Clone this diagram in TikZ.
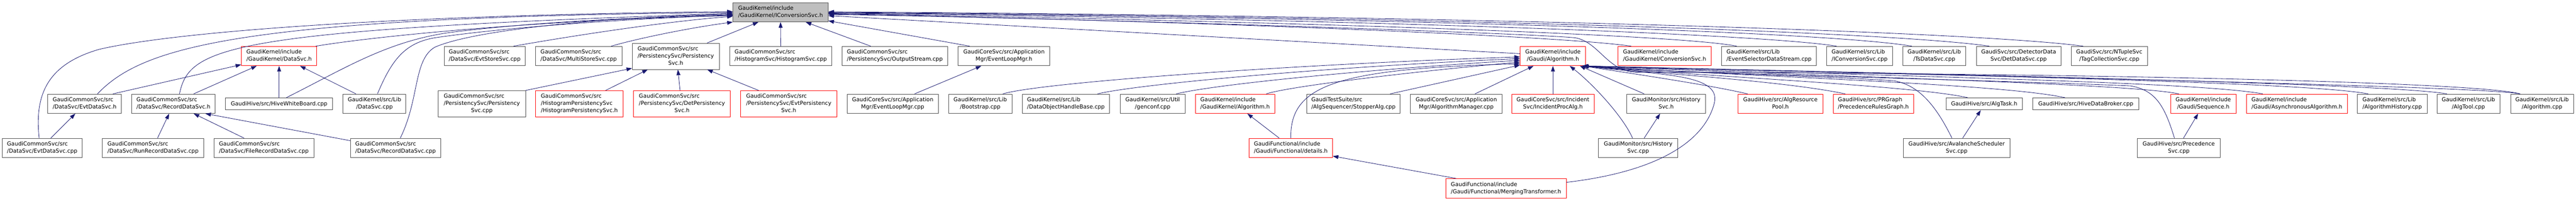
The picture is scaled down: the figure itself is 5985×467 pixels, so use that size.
\documentclass[tikz,border=0pt]{standalone}
\usepackage{fontspec}
\setmainfont{DejaVu Sans}
\usepackage{xcolor}
\usepackage{tikz}
\usetikzlibrary{arrows.meta}
\definecolor{edgeblue}{HTML}{191970}
\definecolor{boxgray}{HTML}{4D4D4D}
\definecolor{truncred}{HTML}{FF0000}
\definecolor{rootfill}{HTML}{BFBFBF}
\newcommand{\flab}[2]{\begin{tabular}{@{}l@{}}#1\\\multicolumn{1}{@{}c@{}}{#2}\end{tabular}}
\tikzset{
  filebox/.style={draw=boxgray, line width=1pt, fill=white, inner sep=0pt, minimum height=45pt, font=\fontsize{12.8}{17}\selectfont},
  redbox/.style={filebox, draw=truncred},
  rootbox/.style={filebox, fill=rootfill},
  tallbox/.style={minimum height=61pt},
  flatbox/.style={minimum height=28pt},
  dep/.style={draw=edgeblue, line width=1pt, -{Triangle[length=13pt,width=9pt]}},
}

\begin{document}
\begin{tikzpicture}[x=1pt, y=-1pt]
\useasboundingbox (0,0) rectangle (5985,467);

% included file
\node[rootbox, minimum width=221pt] (iconvh) at (1813.5,28.5) {\flab{GaudiKernel/include}{/GaudiKernel/IConversionSvc.h}};

% first row
\node[redbox, minimum width=175pt] (dsvch) at (648.5,130.5) {\flab{GaudiKernel/include}{/GaudiKernel/DataSvc.h}};
\node[filebox, minimum width=188pt] (evtstore) at (1126,130.5) {\flab{GaudiCommonSvc/src}{/DataSvc/EvtStoreSvc.cpp}};
\node[filebox, minimum width=201pt] (multistore) at (1344.5,130.5) {\flab{GaudiCommonSvc/src}{/DataSvc/MultiStoreSvc.cpp}};
\node[filebox, tallbox, minimum width=202pt] (persh) at (1570,131) {\flab{GaudiCommonSvc/src\\/PersistencySvc/Persistency}{Svc.h}};
\node[filebox, minimum width=238pt] (histsvc) at (1814,130.5) {\flab{GaudiCommonSvc/src}{/HistogramSvc/HistogramSvc.cpp}};
\node[filebox, minimum width=246pt] (outstream) at (2079,130.5) {\flab{GaudiCommonSvc/src}{/PersistencySvc/OutputStream.cpp}};
\node[filebox, minimum width=213pt] (elmh) at (2332.5,130.5) {\flab{GaudiCoreSvc/src/Application}{Mgr/EventLoopMgr.h}};
\node[redbox, minimum width=152pt] (galg) at (3608,130.5) {\flab{GaudiKernel/include}{/Gaudi/Algorithm.h}};
\node[redbox, minimum width=217pt] (convh) at (3867.5,130.5) {\flab{GaudiKernel/include}{/GaudiKernel/ConversionSvc.h}};
\node[filebox, minimum width=220pt] (esds) at (4110,130.5) {\flab{GaudiKernel/src/Lib}{/EventSelectorDataStream.cpp}};
\node[filebox, minimum width=153pt] (iconvcpp) at (4320.5,130.5) {\flab{GaudiKernel/src/Lib}{/IConversionSvc.cpp}};
\node[filebox, minimum width=146pt] (tsdata) at (4494,130.5) {\flab{GaudiKernel/src/Lib}{/TsDataSvc.cpp}};
\node[filebox, minimum width=196pt] (detdata) at (4690,130.5) {\flab{GaudiSvc/src/DetectorData}{Svc/DetDataSvc.cpp}};
\node[filebox, minimum width=177pt] (tagcoll) at (4900.5,130.5) {\flab{GaudiSvc/src/NTupleSvc}{/TagCollectionSvc.cpp}};

% second row
\node[filebox, minimum width=171pt] (evtdsh) at (196.5,241.5) {\flab{GaudiCommonSvc/src}{/DataSvc/EvtDataSvc.h}};
\node[filebox, minimum width=194pt] (recdsh) at (403,241.5) {\flab{GaudiCommonSvc/src}{/DataSvc/RecordDataSvc.h}};
\node[filebox, flatbox, minimum width=249pt] (hivewb) at (648.5,242) {GaudiHive/src/HiveWhiteBoard.cpp};
\node[filebox, minimum width=146pt] (dsvccpp) at (870,241.5) {\flab{GaudiKernel/src/Lib}{/DataSvc.cpp}};
\node[filebox, tallbox, minimum width=203pt] (perscpp) at (1119.5,241.5) {\flab{GaudiCommonSvc/src\\/PersistencySvc/Persistency}{Svc.cpp}};
\node[redbox, tallbox, minimum width=204pt] (histpersh) at (1346,241.5) {\flab{GaudiCommonSvc/src\\/HistogramPersistencySvc}{/HistogramPersistencySvc.h}};
\node[redbox, tallbox, minimum width=225pt] (detpersh) at (1584.5,241.5) {\flab{GaudiCommonSvc/src\\/PersistencySvc/DetPersistency}{Svc.h}};
\node[redbox, tallbox, minimum width=223pt] (evtpersh) at (1832.5,241.5) {\flab{GaudiCommonSvc/src\\/PersistencySvc/EvtPersistency}{Svc.h}};
\node[filebox, minimum width=212pt] (elmcpp) at (2074,241.5) {\flab{GaudiCoreSvc/src/Application}{Mgr/EventLoopMgr.cpp}};
\node[filebox, minimum width=147pt] (bootstrap) at (2277.5,241.5) {\flab{GaudiKernel/src/Lib}{/Bootstrap.cpp}};
\node[filebox, minimum width=203pt] (dohb) at (2476.5,241.5) {\flab{GaudiKernel/src/Lib}{/DataObjectHandleBase.cpp}};
\node[filebox, minimum width=150pt] (genconf) at (2678,241.5) {\flab{GaudiKernel/src/Util}{/genconf.cpp}};
\node[redbox, minimum width=185pt] (gkalgh) at (2869.5,241.5) {\flab{GaudiKernel/include}{/GaudiKernel/Algorithm.h}};
\node[filebox, minimum width=217pt] (stopper) at (3144.5,241.5) {\flab{GaudiTestSuite/src}{/AlgSequencer/StopperAlg.cpp}};
\node[filebox, minimum width=213pt] (algmgr) at (3383.5,241.5) {\flab{GaudiCoreSvc/src/Application}{Mgr/AlgorithmManager.cpp}};
\node[redbox, minimum width=192pt] (incproc) at (3608,241.5) {\flab{GaudiCoreSvc/src/Incident}{Svc/IncidentProcAlg.h}};
\node[filebox, minimum width=184pt] (histsvch) at (3871,241.5) {\flab{GaudiMonitor/src/History}{Svc.h}};
\node[redbox, minimum width=197pt] (algres) at (4136.5,241.5) {\flab{GaudiHive/src/AlgResource}{Pool.h}};
\node[redbox, minimum width=187pt] (prgraph) at (4352.5,241.5) {\flab{GaudiHive/src/PRGraph}{/PrecedenceRulesGraph.h}};
\node[filebox, flatbox, minimum width=178pt] (algtask) at (4610,242) {GaudiHive/src/AlgTask.h};
\node[filebox, flatbox, minimum width=246pt] (hivedb) at (4846,242) {GaudiHive/src/HiveDataBroker.cpp};
\node[redbox, minimum width=152pt] (seqh) at (5119,241.5) {\flab{GaudiKernel/include}{/Gaudi/Sequence.h}};
\node[redbox, minimum width=235pt] (asynch) at (5336.5,241.5) {\flab{GaudiKernel/include}{/Gaudi/AsynchronousAlgorithm.h}};
\node[filebox, minimum width=162pt] (alghist) at (5558,241.5) {\flab{GaudiKernel/src/Lib}{/AlgorithmHistory.cpp}};
\node[filebox, minimum width=146pt] (algtool) at (5735,241.5) {\flab{GaudiKernel/src/Lib}{/AlgTool.cpp}};
\node[filebox, minimum width=146pt] (algcpp) at (5906,241.5) {\flab{GaudiKernel/src/Lib}{/Algorithm.cpp}};

% third and fourth row
\node[filebox, minimum width=186pt] (evtdscpp) at (98,344.5) {\flab{GaudiCommonSvc/src}{/DataSvc/EvtDataSvc.cpp}};
\node[filebox, minimum width=235pt] (runrec) at (355.5,344.5) {\flab{GaudiCommonSvc/src}{/DataSvc/RunRecordDataSvc.cpp}};
\node[filebox, minimum width=232pt] (filerec) at (613,344.5) {\flab{GaudiCommonSvc/src}{/DataSvc/FileRecordDataSvc.cpp}};
\node[filebox, minimum width=210pt] (reccpp) at (919,344.5) {\flab{GaudiCommonSvc/src}{/DataSvc/RecordDataSvc.cpp}};
\node[redbox, minimum width=194pt] (details) at (2999,344.5) {\flab{GaudiFunctional/include}{/Gaudi/Functional/details.h}};
\node[filebox, minimum width=184pt] (histsvccpp) at (3806,344.5) {\flab{GaudiMonitor/src/History}{Svc.cpp}};
\node[filebox, minimum width=248pt] (avalanche) at (4546,344.5) {\flab{GaudiHive/src/AvalancheScheduler}{Svc.cpp}};
\node[filebox, minimum width=192pt] (precsvc) at (5062,344.5) {\flab{GaudiHive/src/Precedence}{Svc.cpp}};
\node[redbox, minimum width=280pt] (merging) at (3499,438.5) {\flab{GaudiFunctional/include}{/Gaudi/Functional/MergingTransformer.h}};

% data services
\draw[dep] ([xshift=-7pt]evtdscpp.north) .. controls (80,220) and (110,150) .. (230,115) .. controls (400,75) and (900,35) .. ([yshift=1.5pt]iconvh.west);
\draw[dep] ([xshift=20pt]evtdscpp.north) -- ([xshift=-21.5pt]evtdsh.south);
\draw[dep] ([xshift=30pt]evtdsh.north) .. controls (330,110) and (550,40) .. ([yshift=-0.5pt]iconvh.west);
\draw[dep] ([xshift=66pt]evtdsh.north) -- ([yshift=3pt]dsvch.south west);
\draw[dep] ([xshift=14pt]recdsh.north) .. controls (440,110) and (520,70) .. ([yshift=-2.5pt]iconvh.west);
\draw[dep] ([xshift=47pt]recdsh.north) -- ([xshift=-52pt]dsvch.south);
\draw[dep] ([xshift=10.5pt]runrec.north) -- ([xshift=-10pt]recdsh.south);
\draw[dep] ([xshift=-46pt]filerec.north) -- ([xshift=47pt]recdsh.south);
\draw[dep] ([yshift=-6pt]reccpp.north west) -- ([xshift=74pt]recdsh.south);
\draw[dep] ([xshift=11pt]reccpp.north) .. controls (975,230) and (960,140) .. (1010,110) .. controls (1100,70) and (1400,40) .. ([yshift=-4.5pt]iconvh.west);
\draw[dep] (hivewb.north) -- (dsvch.south);
\draw[dep] ([xshift=16.5pt]hivewb.north) .. controls (800,160) and (900,95) .. (1050,75) .. controls (1250,50) and (1500,40) .. ([yshift=-6pt]iconvh.west);
\draw[dep] ([xshift=-43pt]dsvccpp.north) -- ([xshift=48.5pt]dsvch.south);
\draw[dep] ([xshift=7pt]dsvccpp.north) .. controls (910,140) and (940,100) .. (1010,88) .. controls (1200,60) and (1500,42) .. ([yshift=-7pt]iconvh.west);
\draw[dep] ([xshift=-3pt]dsvch.north east) .. controls (900,80) and (1300,45) .. ([yshift=-8pt]iconvh.west);
\draw[dep] ([xshift=67pt]evtstore.north) .. controls (1350,80) and (1550,50) .. ([yshift=-9.5pt]iconvh.west);
\draw[dep] ([xshift=75.5pt]multistore.north) .. controls (1480,90) and (1600,65) .. (iconvh.south west);

% persistency and application manager
\draw[dep] (perscpp.north east) -- ([yshift=3pt]persh.south west);
\draw[dep] ([xshift=61pt]histpersh.north) -- ([xshift=-65pt]persh.south);
\draw[dep] ([xshift=-4.5pt]detpersh.north) -- ([xshift=5pt]persh.south);
\draw[dep] ([xshift=-70pt]evtpersh.north) -- ([xshift=73pt]persh.south);
\draw[dep] ([xshift=73pt]persh.north) -- ([xshift=-51.5pt]iconvh.south);
\draw[dep] (histsvc.north) -- (iconvh.south);
\draw[dep] ([xshift=-56pt]outstream.north) -- ([xshift=58.5pt]iconvh.south);
\draw[dep] ([xshift=-79.5pt]elmh.north) -- ([yshift=3pt]iconvh.south east);
\draw[dep] ([xshift=51pt]elmcpp.north) -- ([xshift=-52.5pt]elmh.south);

% kernel files on the right
\draw[dep] ([yshift=5.5pt]galg.west) -- ([yshift=-8pt]iconvh.east);
\draw[dep] ([xshift=-77.5pt]convh.north) .. controls (3600,80) and (2600,45) .. ([yshift=-4pt]iconvh.east);
\draw[dep] ([xshift=-75pt]esds.north) .. controls (3900,80) and (3000,50) .. ([yshift=-3pt]iconvh.east);
\draw[dep] ([xshift=-53.5pt]iconvcpp.north) .. controls (4100,80) and (3200,45) .. ([yshift=-2pt]iconvh.east);
\draw[dep] ([xshift=-52pt]tsdata.north) .. controls (4250,75) and (3300,42) .. ([yshift=-1pt]iconvh.east);
\draw[dep] ([xshift=-68pt]detdata.north) .. controls (4400,75) and (3400,40) .. (iconvh.east);
\draw[dep] ([xshift=-60.5pt]tagcoll.north) .. controls (4600,75) and (3500,38) .. ([yshift=1pt]iconvh.east);
\draw[dep] ([xshift=-51pt]algcpp.north) .. controls (5750,190) and (4800,170) .. (3800,168) .. controls (3735,166) and (3715,98) .. (3660,88) .. controls (3560,78) and (2600,45) .. ([yshift=-5pt]iconvh.east);

% Gaudi/Algorithm.h, left side
\draw[dep] ([xshift=52.5pt]bootstrap.north) .. controls (2420,192) and (3000,150) .. ([yshift=-2pt]galg.west);
\draw[dep] ([xshift=73.5pt]dohb.north) .. controls (2650,195) and (3100,155) .. ([yshift=-6pt]galg.west);
\draw[dep] ([xshift=55pt]genconf.north) .. controls (2830,195) and (3200,160) .. ([yshift=-10pt]galg.west);
\draw[dep] ([xshift=72.5pt]gkalgh.north) .. controls (3000,200) and (3300,165) .. ([yshift=-14pt]galg.west);
\draw[dep] (details.north) .. controls (2997,200) and (3100,160) .. ([yshift=-18pt]galg.west);
\draw[dep] ([xshift=-27pt]details.north) -- ([xshift=28.5pt]gkalgh.south);
\draw[dep] ([xshift=85.5pt]stopper.north) -- ([yshift=2pt]galg.south west);
\draw[dep] ([xshift=43.5pt]algmgr.north) -- ([xshift=-45pt]galg.south);
\draw[dep] (incproc.north) -- (galg.south);
\draw[dep] ([xshift=-13pt]histsvccpp.north) .. controls (3770,270) and (3700,195) .. ([xshift=39pt]galg.south);
\draw[dep] ([xshift=14pt]histsvccpp.north) -- ([xshift=-14pt]histsvch.south);
\draw[dep] ([xshift=-51pt]histsvch.north) -- ([xshift=-14pt]galg.south east);
\draw[dep] ([xshift=-116pt]merging.north) -- ([yshift=4pt]details.south east);
\draw[dep] ([yshift=14pt]merging.east) .. controls (3850,400) and (3960,330) .. (3983,240) .. controls (4000,170) and (3850,175) .. ([xshift=-6pt]galg.south east);

% Gaudi/Algorithm.h, right side
\draw[dep] ([xshift=-76.5pt]algres.north) .. controls (3980,200) and (3850,180) .. ([xshift=-8pt]galg.south east);
\draw[dep] ([xshift=-65.5pt]prgraph.north) .. controls (4150,190) and (3900,175) .. ([xshift=-8pt]galg.south east);
\draw[dep] ([xshift=-11pt]avalanche.north) .. controls (4500,250) and (4460,198) .. (4400,188) .. controls (4200,175) and (3900,170) .. ([xshift=-8pt]galg.south east);
\draw[dep] ([xshift=14pt]avalanche.north) -- ([xshift=-8pt]algtask.south);
\draw[dep] ([xshift=-38pt]algtask.north) .. controls (4450,200) and (4000,180) .. ([xshift=-8pt]galg.south east);
\draw[dep] ([xshift=-48pt]hivedb.north) .. controls (4650,195) and (4100,180) .. ([xshift=-8pt]galg.south east);
\draw[dep] ([xshift=-10pt]precsvc.north) .. controls (5030,250) and (5010,210) .. (4950,200) .. controls (4600,185) and (3900,172) .. ([xshift=-8pt]galg.south east);
\draw[dep] ([xshift=11pt]precsvc.north) -- ([xshift=-12pt]seqh.south);
\draw[dep] ([xshift=-57pt]seqh.north) .. controls (4950,195) and (4300,180) .. ([xshift=-8pt]galg.south east);
\draw[dep] ([xshift=-79.5pt]asynch.north) .. controls (5100,190) and (4400,178) .. ([xshift=-8pt]galg.south east);
\draw[dep] ([xshift=-56pt]alghist.north) .. controls (5350,190) and (4500,175) .. ([xshift=-8pt]galg.south east);
\draw[dep] ([xshift=-50pt]algtool.north) .. controls (5550,195) and (4600,175) .. ([xshift=-8pt]galg.south east);
\draw[dep] ([xshift=-51pt]algcpp.north) .. controls (5750,200) and (4700,180) .. ([xshift=-8pt]galg.south east);
\end{tikzpicture}
\end{document}
